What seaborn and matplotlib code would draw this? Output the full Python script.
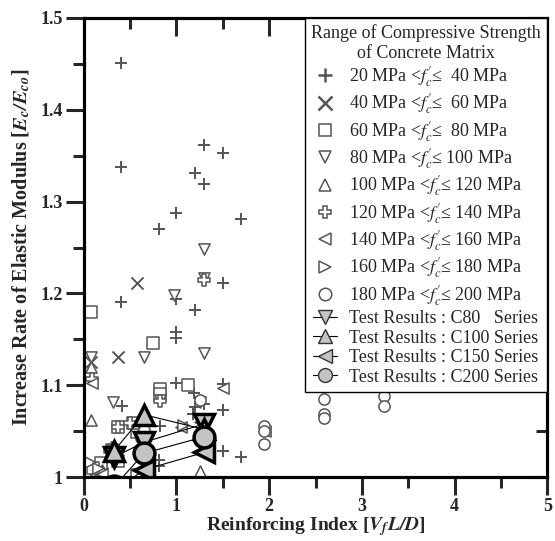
import matplotlib.pyplot as plt
import seaborn as sns
from matplotlib.lines import Line2D

sns.set_style("white")
plt.rcParams["font.family"] = ["Liberation Serif", "DejaVu Serif"]
plt.rcParams["mathtext.fontset"] = "stix"

# literature data, grouped by concrete strength range
plus_x = [0.40, 0.40, 1.30, 1.50, 1.20, 1.30, 0.99, 0.81, 1.70, 0.40, 1.50, 0.99, 1.20,
          1.00, 1.00, 1.30, 0.99, 1.19, 1.50, 1.50, 0.41, 0.82, 1.20, 1.18, 1.30, 1.50,
          1.70, 0.81, 0.81]
plus_y = [1.451, 1.338, 1.362, 1.353, 1.331, 1.319, 1.288, 1.270, 1.281, 1.191, 1.211,
          1.194, 1.182, 1.158, 1.151, 1.215, 1.102, 1.092, 1.101, 1.073, 1.078, 1.056,
          1.076, 1.069, 1.080, 1.029, 1.022, 1.019, 1.012]
cross_x = [0.57, 0.37, 0.08, 0.10, 0.20]
cross_y = [1.211, 1.131, 1.125, 1.000, 1.005]
square_x = [0.08, 0.75, 1.12, 0.82, 0.82, 0.57, 0.53, 0.37, 0.19, 0.57, 0.10, 0.37, 0.30]
square_y = [1.180, 1.146, 1.100, 1.096, 1.090, 1.049, 1.059, 1.018, 1.015, 1.002, 1.010,
            1.055, 1.030]
tri_down_x = [1.30, 1.30, 0.97, 0.65, 1.30, 0.08, 0.32, 0.82, 1.25, 0.64]
tri_down_y = [1.248, 1.217, 1.198, 1.131, 1.135, 1.131, 1.082, 1.084, 1.082, 1.045]
tri_up_x = [0.08, 0.08, 1.25, 0.64, 0.20]
tri_up_y = [1.120, 1.062, 1.007, 1.040, 1.008]
tplus_x = [0.09, 0.82, 0.37, 1.30, 0.32, 0.50, 0.28]
tplus_y = [1.107, 1.083, 1.055, 1.215, 1.032, 1.059, 1.028]
tri_left_x = [0.09, 1.05, 1.50, 1.96, 0.20, 1.25]
tri_left_y = [1.102, 1.055, 1.097, 1.050, 1.003, 1.060]
tri_right_x = [0.07, 1.07, 0.15]
tri_right_y = [1.016, 1.057, 1.010]
circle_x = [1.94, 1.94, 1.94, 2.59, 2.59, 2.59, 3.24, 3.24, 1.25, 0.65, 0.62]
circle_y = [1.056, 1.050, 1.036, 1.085, 1.069, 1.064, 1.088, 1.077, 1.084, 1.051, 1.043]

# test results
c80_x = [0.33, 0.65, 1.30]
c80_y = [1.022, 1.038, 1.058]
c100_x = [0.33, 0.65, 1.30]
c100_y = [1.029, 1.068, 1.052]
c150_x = [0.33, 0.65, 1.30]
c150_y = [0.985, 1.008, 1.027]
c200_x = [0.33, 0.65, 1.30]
c200_y = [0.990, 1.026, 1.044]

ranges = ["20 MPa <$f_c'$\u2264  40 MPa", "40 MPa <$f_c'$\u2264  60 MPa",
          "60 MPa <$f_c'$\u2264  80 MPa", "80 MPa <$f_c'$\u2264 100 MPa",
          "100 MPa <$f_c'$\u2264 120 MPa", "120 MPa <$f_c'$\u2264 140 MPa",
          "140 MPa <$f_c'$\u2264 160 MPa", "160 MPa <$f_c'$\u2264 180 MPa",
          "180 MPa <$f_c'$\u2264 200 MPa"]
test_labels = ["Test Results : C80   Series", "Test Results : C100 Series",
               "Test Results : C150 Series", "Test Results : C200 Series"]

x_ticks = [0, 1, 2, 3, 4, 5]
x_minor = [0.5, 1.5, 2.5, 3.5, 4.5]
y_ticks = [1.0, 1.1, 1.2, 1.3, 1.4, 1.5]
y_minor = [1.05, 1.15, 1.25, 1.35, 1.45]

fig = plt.figure(figsize=(5.55, 5.41), dpi=100)
ax = fig.add_axes([0.151, 0.118, 0.835, 0.849])

grey = "#555555"
groups = [(plus_x, plus_y, "+"), (cross_x, cross_y, "x"), (square_x, square_y, "s"),
          (tri_down_x, tri_down_y, "v"), (tri_up_x, tri_up_y, "^"),
          (tplus_x, tplus_y, "P"), (tri_left_x, tri_left_y, "<"),
          (tri_right_x, tri_right_y, ">"), (circle_x, circle_y, "o")]
handles = []
for (gx, gy, m), lab in zip(groups, ranges):
    if m in "+x":
        ax.scatter(gx, gy, marker=m, s=75, c=grey, linewidths=1.4)
        handles.append(Line2D([], [], ls="none", marker=m, ms=10, mew=1.8, color=grey,
                              label=lab))
    else:
        ax.scatter(gx, gy, marker=m, s=65, facecolors="white", edgecolors=grey,
                   linewidths=1.1)
        handles.append(Line2D([], [], ls="none", marker=m, ms=9, mew=1.1, mec=grey,
                              mfc="white", label=lab))

tests = [(c80_x, c80_y, "v"), (c100_x, c100_y, "^"), (c150_x, c150_y, "<"),
         (c200_x, c200_y, "o")]
for (tx, ty, m), lab in zip(tests, test_labels):
    sns.lineplot(x=tx, y=ty, ax=ax, color="black", lw=0.8, marker=m, markersize=15,
                 markerfacecolor="#c4c4c4", markeredgecolor="black",
                 markeredgewidth=2.5, sort=False, legend=False)
    handles.append(Line2D([], [], color="black", lw=0.8, marker=m, ms=10,
                          mfc="#c4c4c4", mec="#333333", mew=1.0, label=lab))

ax.set_xlim(0, 5)
ax.set_ylim(1, 1.5)
ax.set_xticks(x_ticks)
ax.set_xticks(x_minor, minor=True)
ax.set_yticks(y_ticks)
ax.set_yticks(y_minor, minor=True)
ax.set_xticklabels([str(v) for v in x_ticks], fontweight="bold", fontsize=13)
ax.set_yticklabels(["1", "1.1", "1.2", "1.3", "1.4", "1.5"], fontweight="bold",
                   fontsize=13)
ax.tick_params(which="major", direction="out", length=13, width=2.2, pad=2,
               bottom=True, left=True)
ax.tick_params(which="minor", direction="out", length=8, width=2.2, bottom=True,
               left=True)
for sp in ax.spines.values():
    sp.set_linewidth(2.2)
    sp.set_color("black")

# top and right ticks point inward
top = ax.twiny()
top.set_xlim(0, 5)
top.set_xticks(x_ticks)
top.set_xticks(x_minor, minor=True)
top.tick_params(which="major", direction="in", length=13, width=2.2, labeltop=False)
top.tick_params(which="minor", direction="in", length=8, width=2.2)
right = top.twinx()
right.set_ylim(1, 1.5)
right.set_yticks(y_ticks)
right.set_yticks(y_minor, minor=True)
right.tick_params(which="major", direction="in", length=13, width=2.2, labelright=False)
right.tick_params(which="minor", direction="in", length=8, width=2.2)
for a in (top, right):
    for sp in a.spines.values():
        sp.set_linewidth(2.2)
        sp.set_color("black")

ax.set_xlabel("Reinforcing Index [$\\mathbfit{V_f L/D}$]", fontweight="bold",
              fontsize=14, labelpad=0)
ax.set_ylabel("Increase Rate of Elastic Modulus [$\\mathbfit{E_c/E_{co}}$]",
              fontweight="bold", fontsize=14.5, labelpad=6)

leg = right.legend(handles=handles, loc="upper right", bbox_to_anchor=(1.0, 1.0),
                   borderaxespad=0, fancybox=False, frameon=True, edgecolor="black",
                   framealpha=1, fontsize=13,
                   title="Range of Compressive Strength\nof Concrete Matrix",
                   title_fontsize=13, handlelength=1.3, handletextpad=0.7,
                   labelspacing=0.14, borderpad=0.35)
leg.get_title().set_multialignment("center")
leg.get_frame().set_linewidth(1.0)

fig.savefig("out.png", dpi=100)
